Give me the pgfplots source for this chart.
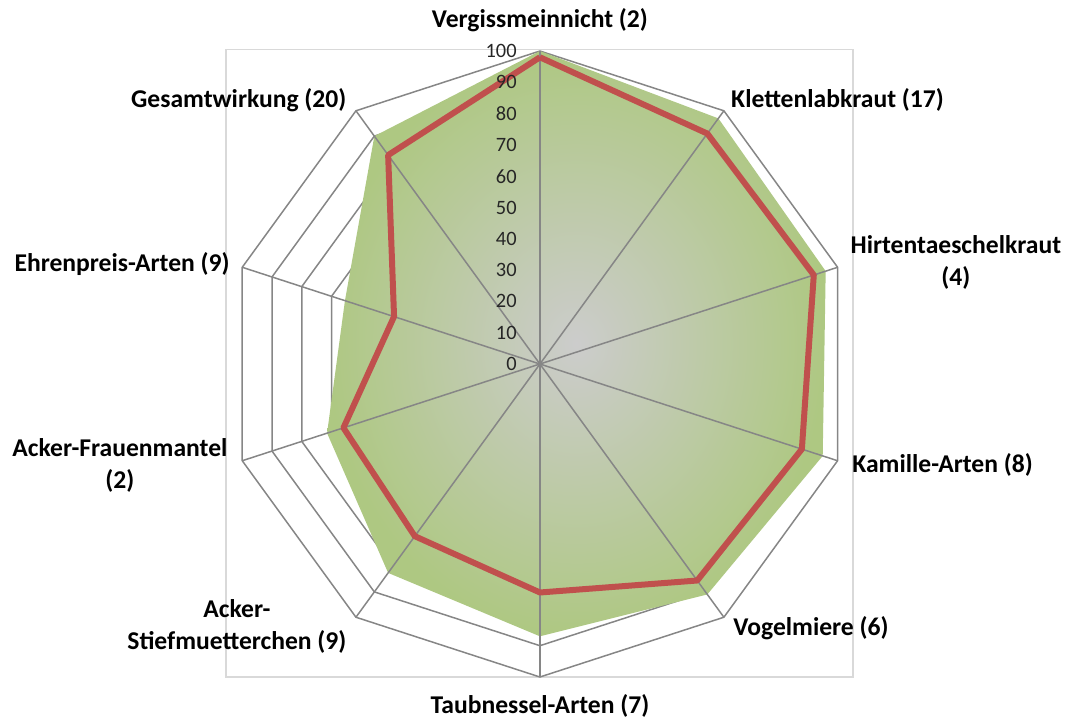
\documentclass[border=0pt]{standalone}
\usepackage{pgfplots}
\pgfplotsset{compat=1.18}
\usepackage{pgfplotstable}
\usepackage{fontspec}
\setmainfont{Carlito}
\definecolor{gridgray}{RGB}{134,134,134}
\definecolor{framegray}{RGB}{217,217,217}
\definecolor{redline}{RGB}{192,80,77}
\definecolor{innergray}{RGB}{204,204,204}
\definecolor{outergreen}{RGB}{174,200,130}
% angle (deg), green area value, red line value
\pgfplotstableread{
a green red
90 100 98
54 97 91
18 96 92
-18 95 88
-54 91 85.5
-90 87 73
-126 82.5 68
-162 71.5 66
-198 65.5 49
-234 90 82.5
90 100 98
}\data
\begin{document}
\begin{tikzpicture}
\begin{axis}[x=1.565pt,y=1.565pt,
  xmin=-172.5,xmax=168.4,ymin=-113.4,ymax=116.3,
  hide axis, clip=false]
\draw[framegray, line width=0.6pt] (axis cs:-100.3,-100) rectangle (axis cs:100,100.6);
\pgfplotsinvokeforeach{10,20,...,100}{
 \addplot[gridgray, line width=0.75pt, mark=none] table[x expr={#1*cos(\thisrow{a})}, y expr={#1*sin(\thisrow{a})}] {\data};
}
\addplot[draw=none, mark=none, inner color=innergray, outer color=outergreen] table[x expr={\thisrow{green}*cos(\thisrow{a})}, y expr={\thisrow{green}*sin(\thisrow{a})}] {\data};
\pgfplotsinvokeforeach{90,54,18,-18,-54,-90,-126,-162,-198,-234}{
 \addplot[gridgray, line width=0.75pt, mark=none] coordinates {(0,0) ({100*cos(#1)},{100*sin(#1)})};
}
\addplot[redline, line width=3pt, line join=round, mark=none] table[x expr={\thisrow{red}*cos(\thisrow{a})}, y expr={\thisrow{red}*sin(\thisrow{a})}] {\data};
\pgfplotsinvokeforeach{0,10,...,100}{
 \node[anchor=east, font=\fontsize{10.2}{12}\selectfont, text=black!85, inner sep=0pt] at (axis cs:-7.3,#1) {#1};
}
\tikzset{cat/.style={font=\bfseries\fontsize{12.8}{16}\selectfont, inner sep=0pt, align=center}}
\node[cat] at (axis cs:0,109.9) {Vergissmeinnicht (2)};
\node[cat, anchor=west] at (axis cs:61,84.3) {Klettenlabkraut (17)};
\node[cat] at (axis cs:132.9,32.3) {Hirtentaeschelkraut\\(4)};
\node[cat, anchor=west] at (axis cs:99.7,-32.3) {Kamille-Arten (8)};
\node[cat, anchor=west] at (axis cs:61.7,-84.3) {Vogelmiere (6)};
\node[cat] at (axis cs:0,-109.3) {Taubnessel-Arten (7)};
\node[cat] at (axis cs:-96.8,-84) {Acker-\\Stiefmuetterchen (9)};
\node[cat] at (axis cs:-134.2,-32.3) {Acker-Frauenmantel\\(2)};
\node[cat, anchor=east] at (axis cs:-99,32) {Ehrenpreis-Arten (9)};
\node[cat, anchor=east] at (axis cs:-61.7,84.3) {Gesamtwirkung (20)};
\path (rel axis cs:0,0) rectangle (rel axis cs:1,1);
\end{axis}
\end{tikzpicture}
\end{document}
